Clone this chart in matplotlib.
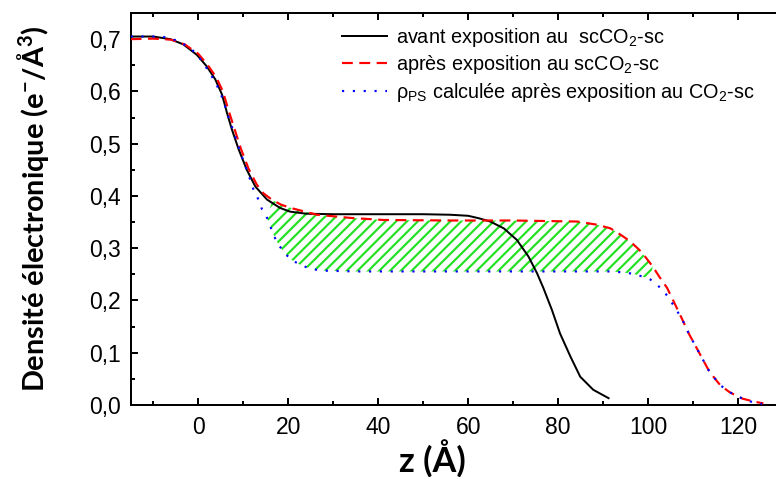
import numpy as np
import matplotlib
matplotlib.use('Agg')
import matplotlib.pyplot as plt
from matplotlib.ticker import MultipleLocator

# --- données ---
z_avant = [-15, -10, -6.2, -3.3, -0.3, 1.9, 3.8, 5.3, 6.4, 7.5, 9.0, 10.8, 12.7,
           15.3, 18.2, 20.4, 24, 30, 40, 50, 56, 60, 62.5, 64.9, 67.9, 70.8,
           73.4, 75.3, 76.7, 78.6, 80.4, 82.7, 84.9, 87.8, 91.2]
rho_avant = [0.705, 0.705, 0.700, 0.690, 0.670, 0.648, 0.623, 0.594, 0.559, 0.527,
             0.489, 0.450, 0.418, 0.393, 0.377, 0.370, 0.366, 0.365, 0.365, 0.365,
             0.364, 0.362, 0.357, 0.351, 0.338, 0.316, 0.284, 0.252, 0.224, 0.182,
             0.137, 0.093, 0.054, 0.029, 0.013]

z_apres = [-15, -10, -6, -3, 0, 2, 4, 5.5, 6.7, 8, 9.5, 11.2, 13, 14.5, 16.5,
           18.5, 21, 26.4, 33.8, 41.2, 56, 70, 84.2, 88.6, 91.6, 94, 96, 98, 99.3,
           101, 102.5, 104.2, 106, 107.5, 109, 111.2, 113.4, 114.5, 116, 118,
           119.3, 121, 123.8, 125.6]
rho_apres = [0.700, 0.701, 0.699, 0.690, 0.672, 0.652, 0.627, 0.600, 0.565, 0.530,
             0.490, 0.452, 0.422, 0.405, 0.392, 0.383, 0.376, 0.364, 0.358, 0.354,
             0.353, 0.353, 0.351, 0.345, 0.338, 0.325, 0.313, 0.297, 0.284, 0.265,
             0.245, 0.224, 0.192, 0.165, 0.137, 0.102, 0.067, 0.054, 0.038, 0.025,
             0.019, 0.012, 0.006, 0.003]

z_ps = [-15, -8, -5, -2, 0, 2, 4, 5.5, 6.7, 8, 9.5, 11, 12.3, 13.4, 14.2, 15.3,
        16.2, 17.1, 18, 19, 20.5, 22.7, 25.2, 28, 35, 60, 91.6, 94, 96.7, 99,
        100.5, 101.6, 102.7, 103.8, 105.3, 107.5, 109, 111.2, 113.4, 114.5, 116,
        118, 119.5, 121, 123, 125.3]
rho_ps = [0.705, 0.705, 0.698, 0.685, 0.668, 0.643, 0.615, 0.585, 0.552, 0.520,
          0.480, 0.445, 0.412, 0.393, 0.374, 0.358, 0.338, 0.319, 0.305, 0.293,
          0.279, 0.268, 0.260, 0.257, 0.2555, 0.2555, 0.2555, 0.254, 0.251, 0.245,
          0.240, 0.233, 0.224, 0.214, 0.195, 0.165, 0.137, 0.102, 0.067, 0.054,
          0.038, 0.025, 0.018, 0.012, 0.006, 0.002]

# zone hachurée (différence après - PS)
z_hachure = (15.3, 101.0)

x_ticks = [0, 20, 40, 60, 80, 100, 120]
y_ticks = [0.0, 0.1, 0.2, 0.3, 0.4, 0.5, 0.6, 0.7]
y_tick_labels = ['0,0', '0,1', '0,2', '0,3', '0,4', '0,5', '0,6', '0,7']

labels = ['avant exposition au  scCO$_2$-sc',
          'après exposition au scCO$_2$-sc',
          '$ρ_{PS}$ calculée après exposition au CO$_2$-sc']

# --- style ---
plt.rcParams['font.family'] = ['Liberation Sans', 'DejaVu Sans']
plt.rcParams['mathtext.fontset'] = 'custom'
plt.rcParams['mathtext.rm'] = 'Liberation Sans'
plt.rcParams['mathtext.it'] = 'Liberation Sans:italic'
plt.rcParams['mathtext.bf'] = 'Liberation Sans:bold'
plt.rcParams['mathtext.default'] = 'regular'
plt.rcParams['hatch.linewidth'] = 1.2

DPI = 130
fig = plt.figure(figsize=(776 / DPI, 477 / DPI), dpi=DPI)
ax = fig.add_axes([0.1684, 0.151, 0.8316, 0.8217])

# hachures vertes entre les deux courbes
za, ra = np.array(z_apres), np.array(rho_apres)
zp, rp = np.array(z_ps), np.array(rho_ps)
ma = (za >= z_hachure[0]) & (za <= z_hachure[1])
mp = (zp >= z_hachure[0]) & (zp <= z_hachure[1])
poly_z = np.concatenate([za[ma], zp[mp][::-1]])
poly_r = np.concatenate([ra[ma], rp[mp][::-1]])
ax.fill(poly_z, poly_r, facecolor='none', edgecolor='#22e022', hatch='////',
        linewidth=0, zorder=1)

ax.plot(z_avant, rho_avant, color='black', lw=1.1, label=labels[0], zorder=3)
ax.plot(z_apres, rho_apres, color='#ff0000', lw=1.2, linestyle=(0, (5, 3)),
        label=labels[1], zorder=4)
ax.plot(z_ps, rho_ps, color='#0000ff', lw=1.2, linestyle=(0, (1, 4)),
        label=labels[2], zorder=5)

ax.set_xlim(-15, 128.4)
ax.set_ylim(0, 0.75)
ax.set_xticks(x_ticks)
ax.xaxis.set_minor_locator(MultipleLocator(10))
ax.set_yticks(y_ticks)
ax.set_yticklabels(y_tick_labels)
ax.yaxis.set_minor_locator(MultipleLocator(0.05))

ax.tick_params(which='both', direction='in', top=True, right=False, width=1.1,
               labelsize=12.7)
ax.tick_params(which='major', length=3.9)
ax.tick_params(which='minor', length=2.2)
ax.tick_params(axis='x', pad=6)
ax.tick_params(axis='y', pad=5.5)
for side in ['left', 'bottom', 'top']:
    ax.spines[side].set_linewidth(1.1)
ax.spines['right'].set_visible(False)

ax.set_xlabel('z (Å)', family=['Lato', 'DejaVu Sans'], fontweight='bold', fontsize=19)
ax.xaxis.set_label_coords(0.467, -0.138)
ax.xaxis.label.set_va('center')
ax.set_ylabel('Densité électronique (e$^{-}$/Å$^{3}$)', family=['Lato', 'DejaVu Sans'],
              fontweight='bold', fontsize=16, labelpad=21)

ax.legend(loc='upper left', bbox_to_anchor=(0.327, 0.967), frameon=False,
          fontsize=11.0, handlelength=2.3, handletextpad=0.45, labelspacing=0.22,
          borderaxespad=0, borderpad=0)

fig.savefig('out.png', dpi=DPI)
